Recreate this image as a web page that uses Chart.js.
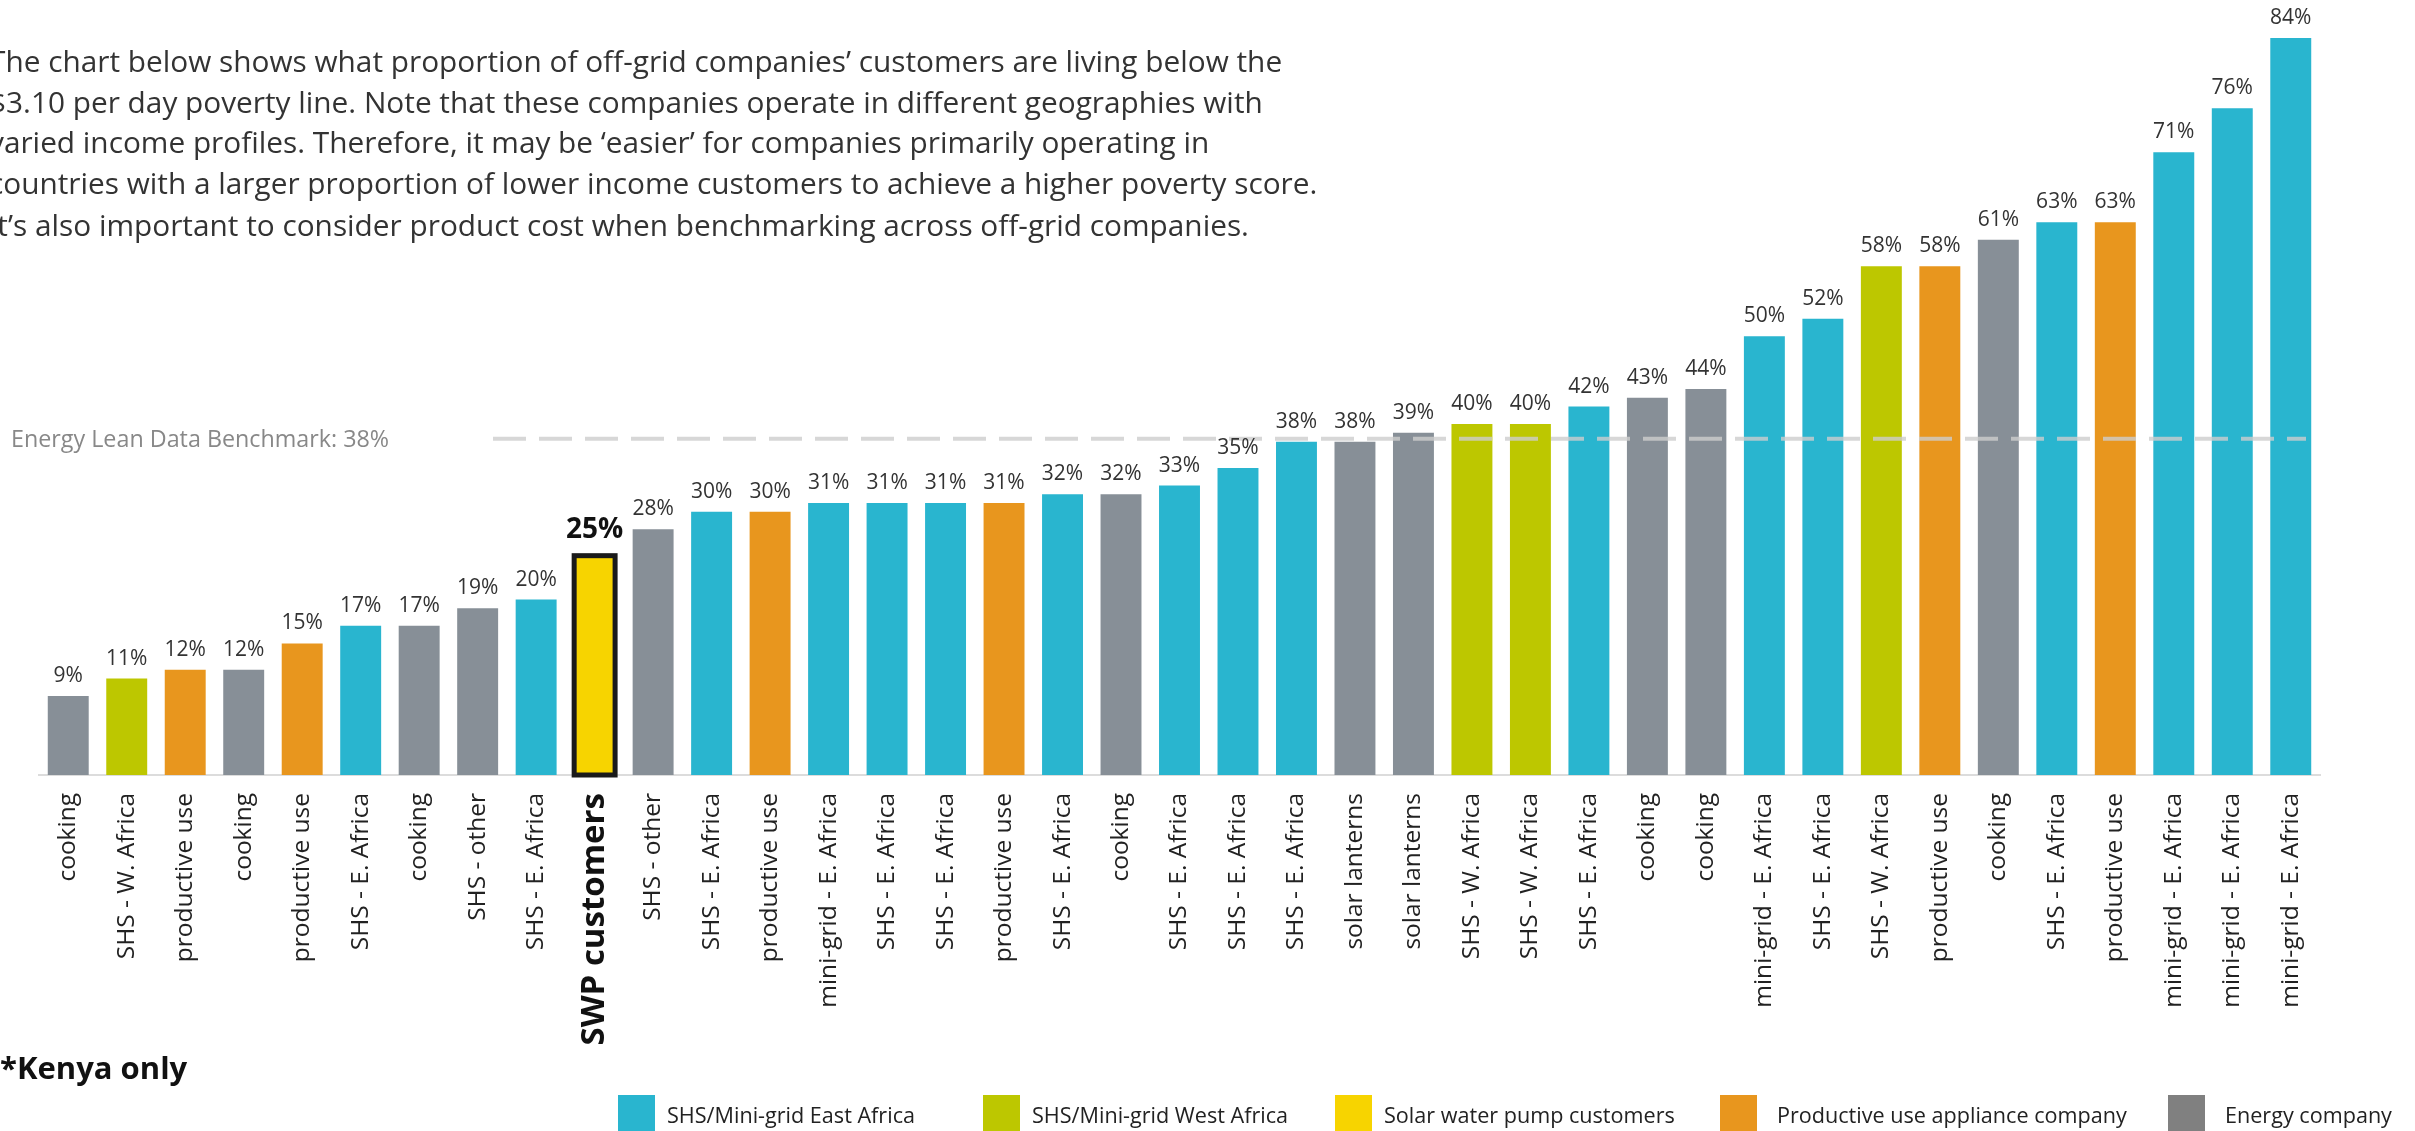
<!DOCTYPE html>
<html>
<head>
<meta charset="utf-8">
<script src="https://cdn.jsdelivr.net/npm/chart.js@4.4.1/dist/chart.umd.min.js"></script>
<style>
html,body{margin:0;padding:0;background:#fff;overflow:hidden}
#wrap{position:relative;width:2415px;height:1131px;overflow:hidden}
#c{position:absolute;left:0;top:0}
.p{position:absolute;left:-11px;white-space:nowrap;font-family:"Open Sans";font-size:29.8px;color:#333;line-height:40px;height:40px}
.kenya{position:absolute;left:0;top:1047px;white-space:nowrap;font-family:"Open Sans";font-weight:bold;font-size:31px;color:#111;line-height:40px}
.lg{position:absolute;top:1095px;height:36px}
.sq{position:absolute;left:0;top:0;width:37px;height:40px}
.lt{position:absolute;top:4px;white-space:nowrap;font-family:"Open Sans";font-size:21.6px;color:#222;line-height:32px}
</style>
</head>
<body>
<div id="wrap">
<canvas id="c" width="2415" height="1131"></canvas>
<div class="p" style="top:41px">The chart below shows what proportion of off-grid companies’ customers are living below the</div>
<div class="p" style="top:82px">$3.10 per day poverty line. Note that these companies operate in different geographies with</div>
<div class="p" style="top:122px">varied income profiles. Therefore, it may be ‘easier’ for companies primarily operating in</div>
<div class="p" style="top:163px">countries with a larger proportion of lower income customers to achieve a higher poverty score.</div>
<div class="p" style="top:205px">It’s also important to consider product cost when benchmarking across off-grid companies.</div>
<div class="kenya">*Kenya only</div>
<div id="legend"></div>
</div>
<script>
// ---- data ----
const categories = ["cooking","SHS - W. Africa","productive use","cooking","productive use","SHS - E. Africa","cooking","SHS - other","SHS - E. Africa","SWP customers","SHS - other","SHS - E. Africa","productive use","mini-grid - E. Africa","SHS - E. Africa","SHS - E. Africa","productive use","SHS - E. Africa","cooking","SHS - E. Africa","SHS - E. Africa","SHS - E. Africa","solar lanterns","solar lanterns","SHS - W. Africa","SHS - W. Africa","SHS - E. Africa","cooking","cooking","mini-grid - E. Africa","SHS - E. Africa","SHS - W. Africa","productive use","cooking","SHS - E. Africa","productive use","mini-grid - E. Africa","mini-grid - E. Africa","mini-grid - E. Africa"];
const values = [9,11,12,12,15,17,17,19,20,25,28,30,30,31,31,31,31,32,32,33,35,38,38,39,40,40,42,43,44,50,52,58,58,61,63,63,71,76,84];
const groups = ["energy","west","pu","energy","pu","east","energy","energy","east","swp","energy","east","pu","east","east","east","pu","east","energy","east","east","east","energy","energy","west","west","east","energy","energy","east","east","west","pu","energy","east","pu","east","east","east"];
const legendKeys = ["east","west","swp","pu","energy"];
const legendLabels = ["SHS/Mini-grid East Africa","SHS/Mini-grid West Africa","Solar water pump customers","Productive use appliance company","Energy company"];
const benchmarkValue = 38;
const benchmarkLabel = "Energy Lean Data Benchmark: 38%";

// ---- styles ----
const barColors = {east:"#29B5CF", west:"#BDC700", swp:"#F7D400", pu:"#E8961E", energy:"#878F97"};
const legendColors = {east:"#29B5CF", west:"#BDC700", swp:"#F7D400", pu:"#E8961E", energy:"#808080"};
const legendX = [618, 983, 1335, 1720, 2168];
const legendTextOffset = [49, 49, 49, 57, 57];
const FONT = '"Open Sans"';

// legend (HTML, real text)
const lg = document.getElementById('legend');
legendKeys.forEach((k,i)=>{
  const d = document.createElement('div');
  d.className='lg'; d.style.left = legendX[i]+'px';
  const s = document.createElement('div'); s.className='sq'; s.style.background = legendColors[k];
  const t = document.createElement('div'); t.className='lt'; t.style.left=legendTextOffset[i]+'px'; t.textContent = legendLabels[i];
  d.appendChild(s); d.appendChild(t); lg.appendChild(d);
});

const overlay = {
  id:'overlay',
  afterDatasetsDraw(chart){
    const ctx = chart.ctx;
    const meta = chart.getDatasetMeta(0);
    const yS = chart.scales.y;
    const base = yS.getPixelForValue(0);
    ctx.save();
    // SWP border
    meta.data.forEach((bar,i)=>{
      if(groups[i]==='swp'){
        const w = bar.width;
        ctx.lineWidth = 5; ctx.strokeStyle = '#1a1a1a';
        ctx.strokeRect(bar.x - w/2, bar.y, w, base - bar.y);
      }
    });
    // benchmark line
    const by = yS.getPixelForValue(benchmarkValue) - 3;
    ctx.setLineDash([33,13]);
    ctx.lineWidth = 4;
    ctx.strokeStyle = 'rgba(205,205,205,0.8)';
    ctx.beginPath(); ctx.moveTo(493, by); ctx.lineTo(2306, by); ctx.stroke();
    ctx.setLineDash([]);
    ctx.font = '23.3px ' + FONT; ctx.fillStyle = '#888';
    ctx.textAlign='left'; ctx.textBaseline='middle';
    ctx.fillText(benchmarkLabel, 11, by + 2);
    // value labels
    ctx.textAlign='center'; ctx.textBaseline='alphabetic';
    meta.data.forEach((bar,i)=>{
      const swp = groups[i]==='swp';
      ctx.font = (swp ? 'bold 28px ' : '21px ') + FONT;
      ctx.fillStyle = swp ? '#111' : '#333';
      ctx.fillText(values[i] + '%', bar.x, bar.y - (swp ? 18 : 14));
    });
    ctx.restore();
  }
};

new Chart(document.getElementById('c'), {
  type:'bar',
  data:{
    labels: categories,
    datasets:[{
      data: values,
      backgroundColor: groups.map(g=>barColors[g]),
      borderWidth: 0,
      categoryPercentage: 1.0,
      barPercentage: 0.70
    }]
  },
  options:{
    responsive:false,
    animation:false,
    devicePixelRatio:1,
    layout:{padding:{left:39, right:95, top:3, bottom:0}},
    plugins:{legend:{display:false}, tooltip:{enabled:false}},
    scales:{
      y:{display:false, min:0, max:88},
      x:{
        afterFit(scale){ scale.height = 356; },
        grid:{display:false, drawTicks:false},
        border:{display:true, color:'#dcdcdc', width:2},
        ticks:{
          autoSkip:false, maxRotation:90, minRotation:90, padding:18,
          color:(c)=> groups[c.index]==='swp' ? '#111' : '#222',
          font:(c)=> groups[c.index]==='swp' ? {family:FONT, size:33, weight:'bold'} : {family:FONT, size:24.5}
        }
      }
    }
  },
  plugins:[overlay]
});
</script>
</body>
</html>
